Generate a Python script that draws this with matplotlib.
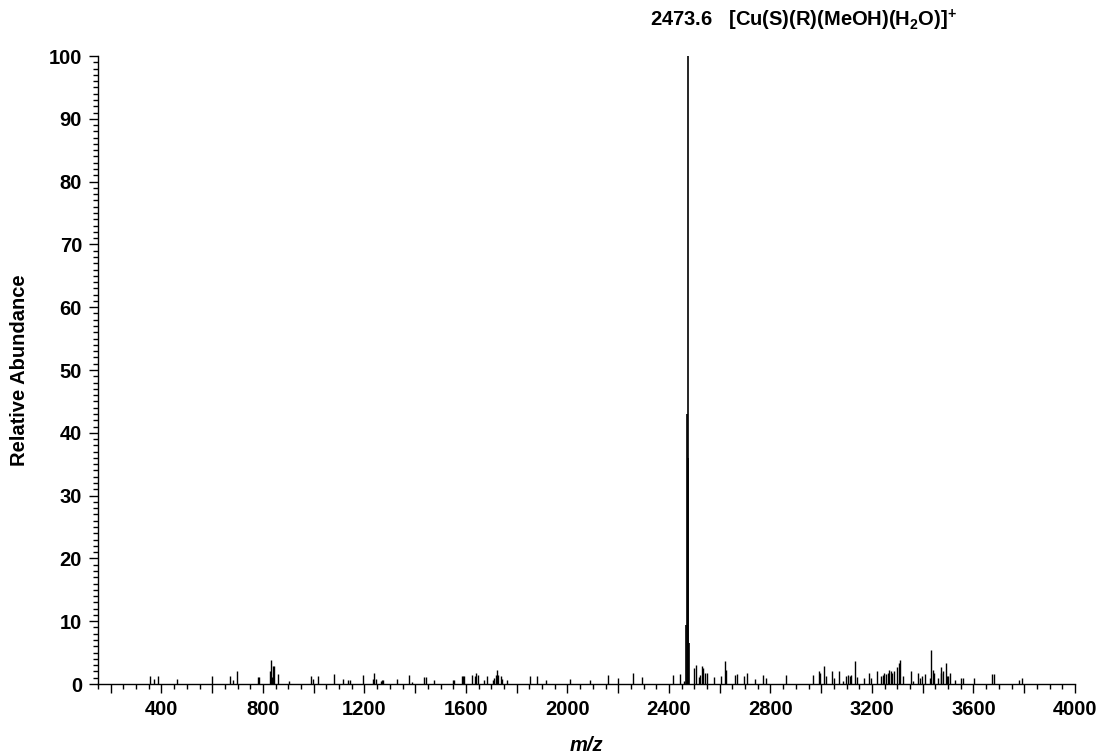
import matplotlib
matplotlib.use("Agg")
import matplotlib.pyplot as plt
from matplotlib.ticker import MultipleLocator, FixedLocator, FuncFormatter

plt.rcParams['font.family'] = ['Liberation Sans', 'DejaVu Sans']
plt.rcParams['mathtext.fontset'] = 'custom'
plt.rcParams['mathtext.rm'] = 'Liberation Sans:bold'
plt.rcParams['mathtext.it'] = 'Liberation Sans:bold'
plt.rcParams['mathtext.bf'] = 'Liberation Sans:bold'

# main isotope cluster
cluster_mz = [2467, 2470, 2473.6, 2476.5, 2479]
cluster_int = [9.4, 43, 100, 36, 6.5]

# minor peaks (m/z, relative abundance)
minor_mz = [356, 372, 385, 460, 600, 669, 681, 698, 780, 785, 827, 831, 835, 841, 845, 861, 902,
            991, 999, 1018, 1079, 1114, 1135, 1143, 1193, 1233, 1239, 1245, 1264, 1269, 1275,
            1330, 1375, 1388, 1435, 1442, 1474, 1550, 1554, 1586, 1590, 1594, 1625, 1636, 1641,
            1646, 1670, 1682, 1706, 1711, 1718, 1721, 1727, 1737, 1741, 1762, 1852, 1878, 1916,
            2009, 2090, 2160, 2198, 2258, 2294, 2416, 2443, 2460,
            2498, 2507, 2517, 2524, 2530, 2535, 2542, 2551, 2578, 2604, 2620, 2625, 2660, 2669,
            2694, 2708, 2740, 2770, 2784, 2860, 2966, 2991, 2997, 3010, 3018, 3042, 3049, 3071,
            3084, 3097, 3105, 3112, 3119, 3134, 3142, 3168, 3189, 3197, 3218, 3235, 3242, 3248,
            3257, 3262, 3268, 3273, 3280, 3288, 3298, 3305, 3310, 3322, 3353, 3363, 3382, 3389,
            3397, 3407, 3428, 3433, 3439, 3446, 3462, 3470, 3473, 3480, 3490, 3494, 3501, 3508,
            3526, 3549, 3559, 3601, 3673, 3680, 3779, 3793]
minor_int = [1.2, 0.85, 1.2, 0.85, 1.3, 1.3, 0.6, 2.1, 1.1, 1.1, 2.0, 3.9, 1.1, 2.8, 2.9, 1.6, 0.4,
             1.2, 0.85, 1.2, 1.6, 0.85, 0.7, 0.7, 1.5, 0.8, 1.75, 0.8, 0.4, 0.7, 0.7,
             0.85, 1.5, 0.3, 1.1, 1.1, 0.7, 0.6, 0.7, 1.3, 1.3, 1.3, 1.5, 1.2, 1.75,
             1.5, 0.7, 1.3, 0.6, 1.0, 1.5, 2.3, 1.5, 1.3, 0.85, 0.7, 1.3, 1.3, 0.7,
             0.8, 0.7, 1.5, 0.95, 1.8, 1.1, 1.5, 1.6, 0.4,
             2.6, 3.1, 1.1, 1.5, 2.9, 2.6, 1.8, 1.8, 1.1, 1.2, 3.7, 2.3, 1.5, 1.6,
             1.2, 1.8, 0.85, 1.5, 0.95, 1.5, 1.5, 2.1, 1.8, 2.9, 1.2, 2.0, 0.95, 2.1,
             0.5, 1.3, 1.4, 1.2, 1.5, 3.7, 1.1, 0.95, 1.8, 0.95, 2.1, 1.2, 1.5, 1.8,
             1.6, 1.8, 2.3, 2.0, 1.8, 2.1, 2.7, 3.3, 3.9, 1.2, 2.0, 0.5, 1.8, 0.95,
             1.2, 1.6, 0.95, 5.4, 2.3, 1.8, 0.95, 1.8, 2.7, 2.1, 3.4, 1.2, 1.2, 1.8,
             0.7, 0.95, 0.95, 0.95, 1.6, 1.6, 0.7, 0.95]

x_major_labels = [400, 800, 1200, 1600, 2000, 2400, 2800, 3200, 3600, 4000]
y_ticks = [0, 10, 20, 30, 40, 50, 60, 70, 80, 90, 100]
peak_label = "2473.6   [Cu(S)(R)(MeOH)(H$_2$O)]$^{+}$"

fig = plt.figure(figsize=(11.11, 7.54), dpi=100)
ax = fig.add_axes([98/1111, 1-684/754, (1075-98)/1111, (684-56)/754])

ax.vlines(minor_mz, 0, minor_int, color='black', lw=1.0)
ax.vlines(cluster_mz, 0, cluster_int, color='black', lw=1.2)

ax.set_xlim(150, 4000)
ax.set_ylim(0, 100)

for s in ['top', 'right']:
    ax.spines[s].set_visible(False)
for s in ['left', 'bottom']:
    ax.spines[s].set_linewidth(1.0)

ax.xaxis.set_major_locator(MultipleLocator(200))
ax.xaxis.set_minor_locator(MultipleLocator(50))
ax.xaxis.set_major_formatter(FuncFormatter(lambda v, p: f"{int(v)}" if int(round(v)) in x_major_labels else ""))
ax.yaxis.set_major_locator(FixedLocator(y_ticks))
ax.yaxis.set_minor_locator(MultipleLocator(1))

ax.tick_params(axis='both', which='major', direction='out', length=6.5, width=1.0,
               labelsize=14.5, pad=5)
ax.tick_params(axis='both', which='minor', direction='out', length=3.8, width=1.0)
for lab in ax.get_xticklabels() + ax.get_yticklabels():
    lab.set_fontweight('bold')

ax.set_xlabel("m/z", fontsize=14.5, fontweight='bold', fontstyle='italic', labelpad=12)
ax.set_ylabel("Relative Abundance", fontsize=14.5, fontweight='bold', labelpad=14)

ax.annotate(peak_label, xy=(cluster_mz[2], 100), xytext=(-27, 26), textcoords='offset points',
            ha='left', va='center', fontsize=14.5, fontweight='bold', annotation_clip=False)

fig.savefig("out.png", dpi=100)
